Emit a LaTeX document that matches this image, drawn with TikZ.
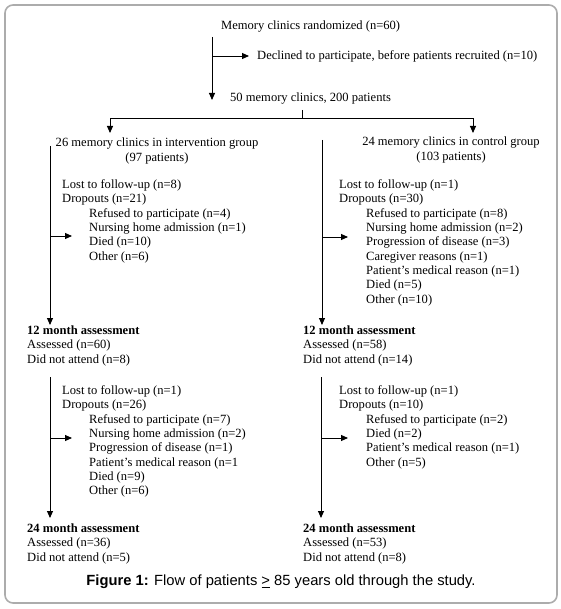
\documentclass[tikz,border=0pt]{standalone}
\usepackage{fontspec}
\setmainfont{Liberation Serif}
\newfontfamily\capfont{Liberation Sans}
\usetikzlibrary{arrows.meta}
\begin{document}
\begin{tikzpicture}[x=1bp,y=-1bp,
  txt/.style={inner sep=0pt,font=\fontsize{12.6}{14.4}\selectfont,align=left},
  ctxt/.style={inner sep=0pt,font=\fontsize{12.6}{14.4}\selectfont,align=center},
  ln/.style={line width=0.9bp},
  arr/.style={line width=0.9bp,-{Triangle[length=7bp,width=6bp]}},
  frame/.style={draw=gray!65,line width=1.6bp,rounded corners=8bp}]
\useasboundingbox (0,0) rectangle (561,609);
\draw[frame] (5,5) rectangle (557,603);

% top
\node[txt,anchor=west] (top) at (221,27) {Memory clinics randomized (n=60)};
\node[txt,anchor=west] (decl) at (257,56) {Declined to participate, before patients recruited (n=10)};
\node[txt,anchor=west] (fifty) at (230,99) {50 memory clinics, 200 patients};
\coordinate (t1) at (212,37);
\coordinate (t2) at (212,100);
\coordinate (tb) at (212,56);
\coordinate (te) at (249,56);
\draw[arr] (t1) -- (t2);
\draw[arr] (tb) -- (te);

% split
\coordinate (s0) at (302,110);
\coordinate (s1) at (302,118);
\coordinate (sl) at (110,118);
\coordinate (sr) at (473,118);
\coordinate (slb) at (110,133);
\coordinate (srb) at (473,133);
\draw[ln] (s0) -- (s1);
\draw[arr] (s1) -- (sl) -- (slb);
\draw[arr] (s1) -- (sr) -- (srb);

% group headers
\node[ctxt] (gi) at (157,151) {26 memory clinics in intervention group\\(97 patients)};
\node[ctxt] (gc) at (451,150) {24 memory clinics in control group\\(103 patients)};

% left upper
\coordinate (l1a) at (50,146);
\coordinate (l1b) at (50,325);
\coordinate (l1c) at (50,236);
\coordinate (l1d) at (72,236);
\draw[arr] (l1a) -- (l1b);
\draw[arr] (l1c) -- (l1d);
\node[txt,anchor=north west] (lost1) at (62,179.5) {Lost to follow-up (n=8)\\Dropouts (n=21)\\
\hspace*{27bp}Refused to participate (n=4)\\
\hspace*{27bp}Nursing home admission (n=1)\\
\hspace*{27bp}Died (n=10)\\
\hspace*{27bp}Other (n=6)};

% right upper
\coordinate (r1a) at (322,140);
\coordinate (r1b) at (322,325);
\coordinate (r1c) at (322,237);
\coordinate (r1d) at (348,237);
\draw[arr] (r1a) -- (r1b);
\draw[arr] (r1c) -- (r1d);
\node[txt,anchor=north west] (lost2) at (339,179.5) {Lost to follow-up (n=1)\\Dropouts (n=30)\\
\hspace*{27bp}Refused to participate (n=8)\\
\hspace*{27bp}Nursing home admission (n=2)\\
\hspace*{27bp}Progression of disease (n=3)\\
\hspace*{27bp}Caregiver reasons (n=1)\\
\hspace*{27bp}Patient’s medical reason (n=1)\\
\hspace*{27bp}Died (n=5)\\
\hspace*{27bp}Other (n=10)};

% 12 month
\node[txt,anchor=north west] (m12l) at (27,325.5) {\textbf{12 month assessment}\\Assessed (n=60)\\Did not attend (n=8)};
\node[txt,anchor=north west] (m12r) at (303,325.5) {\textbf{12 month assessment}\\Assessed (n=58)\\Did not attend (n=14)};

% left lower
\coordinate (l2a) at (50,377);
\coordinate (l2b) at (50,518);
\coordinate (l2c) at (50,438);
\coordinate (l2d) at (72,438);
\draw[arr] (l2a) -- (l2b);
\draw[arr] (l2c) -- (l2d);
\node[txt,anchor=north west] (lost3) at (62,385.5) {Lost to follow-up (n=1)\\Dropouts (n=26)\\
\hspace*{27bp}Refused to participate (n=7)\\
\hspace*{27bp}Nursing home admission (n=2)\\
\hspace*{27bp}Progression of disease (n=1)\\
\hspace*{27bp}Patient’s medical reason (n=1\\
\hspace*{27bp}Died (n=9)\\
\hspace*{27bp}Other (n=6)};

% right lower
\coordinate (r2a) at (321,377);
\coordinate (r2b) at (321,518);
\coordinate (r2c) at (321,438);
\coordinate (r2d) at (348,438);
\draw[arr] (r2a) -- (r2b);
\draw[arr] (r2c) -- (r2d);
\node[txt,anchor=north west] (lost4) at (339,385.5) {Lost to follow-up (n=1)\\Dropouts (n=10)\\
\hspace*{27bp}Refused to participate (n=2)\\
\hspace*{27bp}Died (n=2)\\
\hspace*{27bp}Patient’s medical reason (n=1)\\
\hspace*{27bp}Other (n=5)};

% 24 month
\node[txt,anchor=north west] (m24l) at (27,523.5) {\textbf{24 month assessment}\\Assessed (n=36)\\Did not attend (n=5)};
\node[txt,anchor=north west] (m24r) at (303,523.5) {\textbf{24 month assessment}\\Assessed (n=53)\\Did not attend (n=8)};

% caption
\node[inner sep=0pt,font=\capfont\fontsize{14.8}{16}\selectfont] (cap) at (281,582) {\textbf{Figure 1:} Flow of patients \underline{>} 85 years old through the study.};
\end{tikzpicture}
\end{document}
